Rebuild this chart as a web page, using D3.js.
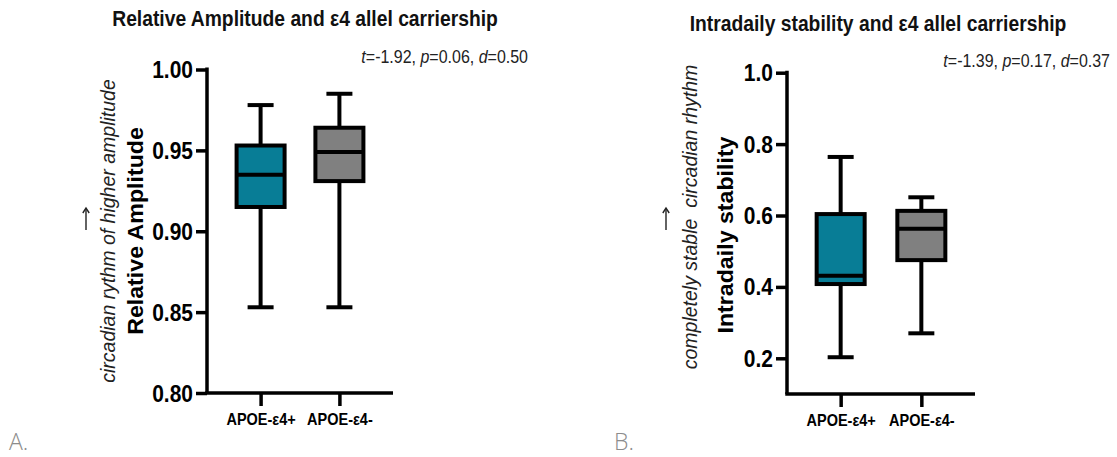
<!DOCTYPE html>
<html>
<head>
<meta charset="utf-8">
<script src="https://cdn.jsdelivr.net/npm/d3@7"></script>
<style>
  html, body { margin: 0; padding: 0; background: #fff; }
  svg { display: block; }
</style>
</head>
<body>
<svg id="chart" width="1117" height="457"></svg>
<script>
// Groups compared in both panels
const groups = ["APOE-ε4+", "APOE-ε4-"];

// Panel A: relative amplitude, box summary per group
const ampMin = [0.853, 0.853];
const ampQ1  = [0.915, 0.931];
const ampMed = [0.935, 0.949];
const ampQ3  = [0.953, 0.964];
const ampMax = [0.978, 0.985];
const ampTicks = [0.80, 0.85, 0.90, 0.95, 1.00];
const ampDomain = [0.80, 1.00];

// Panel B: intradaily stability, box summary per group
const isMin = [0.203, 0.270];
const isQ1  = [0.408, 0.475];
const isMed = [0.431, 0.563];
const isQ3  = [0.604, 0.613];
const isMax = [0.764, 0.651];
const isTicks = [0.2, 0.4, 0.6, 0.8, 1.0];
const isDomain = [0.1, 1.0];

const boxColors = ["#087d96", "#808080"];

const svg = d3.select("#chart");
const FONT = "'Liberation Sans', Arial, sans-serif";
const TALL = 1.1; // horizontal text is drawn slightly tall

function drawPanel(p) {
  const g = svg.append("g");

  const y = d3.scaleLinear().domain(p.domain).range([p.bottom, p.top]);
  const x = d3.scalePoint().domain(groups).range([p.left, p.right]).padding(p.pad);

  // Title
  g.append("text")
    .attr("transform", `translate(${p.titleX},${p.titleY}) scale(1,${TALL})`)
    .attr("text-anchor", "middle")
    .style("font-family", FONT).style("font-weight", "bold")
    .style("font-size", "19.3px").attr("fill", "#111")
    .text(p.title);

  // Statistics line
  const stat = g.append("text")
    .attr("transform", `translate(${p.statX},${p.statY}) scale(1,${TALL})`)
    .attr("text-anchor", "end")
    .style("font-family", FONT).style("font-size", "16px").attr("fill", "#222");
  p.stats.forEach((s, i) => {
    stat.append("tspan").style("font-style", "italic").text(s[0]);
    stat.append("tspan").text("=" + s[1] + (i < p.stats.length - 1 ? ", " : ""));
  });

  // Y axis
  const yAxis = g.append("g")
    .attr("transform", `translate(${p.left},0)`)
    .call(d3.axisLeft(y).tickValues(p.ticks).tickFormat(d3.format(p.fmt)).tickSize(11).tickPadding(3));
  yAxis.select(".domain").attr("d", `M0,${p.top - 2}V${p.bottom}`);

  // X axis
  const xAxis = g.append("g")
    .attr("transform", `translate(0,${p.bottom})`)
    .call(d3.axisBottom(x).tickSize(13).tickPadding(6));
  xAxis.select(".domain").attr("d", `M${p.left - 1.75},0H${p.right}`);

  [yAxis, xAxis].forEach(ax => {
    ax.selectAll(".domain, .tick line").attr("stroke", "#000").attr("stroke-width", 3.5);
    ax.selectAll("text").attr("fill", "#000").style("font-family", FONT).style("font-weight", "bold");
  });
  yAxis.selectAll("text").style("font-size", "21px")
    .attr("dy", null).attr("y", 7.3)
    .attr("transform", `scale(1,${TALL})`);
  xAxis.selectAll("text").style("font-size", "14.5px")
    .attr("transform", `scale(1,${TALL})`);

  // Y axis title and the italic note beside it
  g.append("text")
    .attr("transform", `translate(${p.labelX},${p.labelY}) rotate(-90) scale(1.03,1)`)
    .attr("text-anchor", "middle")
    .style("font-family", FONT).style("font-weight", "bold").style("font-size", "22.5px")
    .attr("fill", "#000")
    .text(p.yLabel);
  g.append("text")
    .attr("transform", `translate(${p.noteX},${p.noteY}) rotate(-90)`)
    .attr("text-anchor", "middle")
    .style("font-family", FONT).style("font-style", "italic").style("font-size", "19.5px")
    .attr("fill", "#222")
    .style("white-space", "pre")
    .text(p.note);

  // Upward arrow next to the note
  const ax0 = p.arrowX, aTop = p.arrowY - 11, aBot = p.arrowY + 11;
  g.append("path")
    .attr("d", `M${ax0},${aBot}V${aTop + 1}`)
    .attr("stroke", "#222").attr("stroke-width", 1.4).attr("fill", "none");
  g.append("path")
    .attr("d", `M${ax0 - 3.2},${aTop + 5}L${ax0},${aTop}L${ax0 + 3.2},${aTop + 5}`)
    .attr("stroke", "#222").attr("stroke-width", 1.4).attr("fill", "none");

  // Boxes and whiskers
  const boxW = 48, capW = 26, sw = 4;
  groups.forEach((grp, i) => {
    const cx = x(grp);
    const bg = g.append("g");
    bg.append("line")
      .attr("x1", cx).attr("x2", cx)
      .attr("y1", y(p.max[i])).attr("y2", y(p.q3[i]))
      .attr("stroke", "#000").attr("stroke-width", sw);
    bg.append("line")
      .attr("x1", cx).attr("x2", cx)
      .attr("y1", y(p.q1[i])).attr("y2", y(p.min[i]))
      .attr("stroke", "#000").attr("stroke-width", sw);
    [p.max[i], p.min[i]].forEach(v => {
      bg.append("line")
        .attr("x1", cx - capW / 2).attr("x2", cx + capW / 2)
        .attr("y1", y(v)).attr("y2", y(v))
        .attr("stroke", "#000").attr("stroke-width", sw);
    });
    bg.append("rect")
      .attr("x", cx - boxW / 2).attr("width", boxW)
      .attr("y", y(p.q3[i])).attr("height", y(p.q1[i]) - y(p.q3[i]))
      .attr("fill", boxColors[i]).attr("stroke", "#000").attr("stroke-width", sw);
    bg.append("line")
      .attr("x1", cx - boxW / 2).attr("x2", cx + boxW / 2)
      .attr("y1", y(p.med[i])).attr("y2", y(p.med[i]))
      .attr("stroke", "#000").attr("stroke-width", sw);
  });

  // Panel letter
  svg.append("text")
    .attr("x", p.letterX).attr("y", 450)
    .style("font-family", "'Open Sans', 'Noto Sans', sans-serif").style("font-weight", 300)
    .style("font-size", "23px").attr("fill", "#8c8c8c")
    .text(p.letter);
}

drawPanel({
  title: "Relative Amplitude and ε4 allel carriership",
  titleX: 305, titleY: 26,
  stats: [["t", "-1.92"], ["p", "0.06"], ["d", "0.50"]],
  statX: 528, statY: 63,
  left: 207, right: 393, top: 69.5, bottom: 393, pad: 0.68,
  domain: ampDomain, ticks: ampTicks, fmt: ".2f",
  min: ampMin, q1: ampQ1, med: ampMed, q3: ampQ3, max: ampMax,
  yLabel: "Relative Amplitude", labelX: 143, labelY: 231,
  note: "circadian rythm of higher amplitude", noteX: 115, noteY: 231,
  arrowX: 86, arrowY: 219,
  letter: "A.", letterX: 9
});

drawPanel({
  title: "Intradaily stability and ε4 allel carriership",
  titleX: 878, titleY: 31,
  stats: [["t", "-1.39"], ["p", "0.17"], ["d", "0.37"]],
  statX: 1110, statY: 67,
  left: 787, right: 975, top: 72.7, bottom: 394, pad: 0.665,
  domain: isDomain, ticks: isTicks, fmt: ".1f",
  min: isMin, q1: isQ1, med: isMed, q3: isQ3, max: isMax,
  yLabel: "Intradaily stability", labelX: 733, labelY: 235,
  note: "completely stable  circadian rhythm", noteX: 697, noteY: 217,
  arrowX: 666, arrowY: 219,
  letter: "B.", letterX: 614
});
</script>
</body>
</html>
